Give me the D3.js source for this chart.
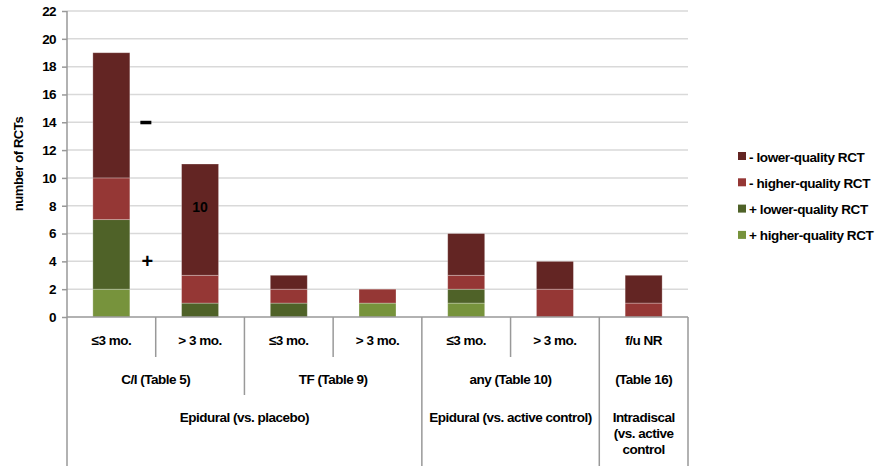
<!DOCTYPE html>
<html>
<head>
<meta charset="utf-8">
<script src="https://cdn.jsdelivr.net/npm/d3@7"></script>
<style>
  body { margin: 0; background: #fff; }
  svg text { font-family: "Liberation Sans", Arial, sans-serif; font-weight: bold; fill: #000; }
</style>
</head>
<body>
<svg width="888" height="466"></svg>
<script>
(function() {
  // chart data
  var categories = ["≤3 mo.", "> 3 mo.", "≤3 mo.", "> 3 mo.", "≤3 mo.", "> 3 mo.", "f/u NR"];
  var posHigher = [2, 0, 0, 1, 1, 0, 0];
  var posLower  = [5, 1, 1, 0, 1, 0, 0];
  var negHigher = [3, 2, 1, 1, 1, 2, 1];
  var negLower  = [9, 8, 1, 0, 3, 2, 2];
  var yTicks = [0, 2, 4, 6, 8, 10, 12, 14, 16, 18, 20, 22];

  // second and third header rows: [label, first index, last index]
  var level2 = [["C/I (Table 5)", 0, 1], ["TF (Table 9)", 2, 3], ["any (Table 10)", 4, 5], ["(Table 16)", 6, 6]];
  var level3 = [[["Epidural (vs. placebo)"], 0, 3], [["Epidural (vs. active control)"], 4, 5], [["Intradiscal", "(vs. active", "control"], 6, 6]];

  var seriesKeys = ["posHigher", "posLower", "negHigher", "negLower"];
  var seriesNames = {
    negLower: "- lower-quality RCT",
    negHigher: "- higher-quality RCT",
    posLower: "+ lower-quality RCT",
    posHigher: "+ higher-quality RCT"
  };
  var color = d3.scaleOrdinal()
      .domain(seriesKeys)
      .range(["#77933c", "#4f6228", "#953735", "#632523"]);

  var rows = categories.map(function(c, i) {
    return { idx: i, posHigher: posHigher[i], posLower: posLower[i], negHigher: negHigher[i], negLower: negLower[i] };
  });

  var svg = d3.select("svg");
  var left = 67, right = 688, top = 11, bottom = 317;

  var x = d3.scaleBand()
      .domain(d3.range(categories.length))
      .range([left, right])
      .paddingInner(0.583)
      .paddingOuter(0.2915);

  var y = d3.scaleLinear()
      .domain([0, 22])
      .range([bottom, top]);

  // gridlines + tick labels
  var yAxis = svg.append("g")
      .attr("transform", "translate(" + left + ",0)")
      .call(d3.axisLeft(y).tickValues(yTicks).tickSize(5).tickPadding(6));
  yAxis.select(".domain").remove();
  yAxis.selectAll(".tick line").attr("stroke", "#999").attr("stroke-width", 1.5);
  yAxis.selectAll(".tick text").style("font-size", "13.5px").style("letter-spacing", "-0.6px");

  svg.append("g")
    .selectAll("line")
    .data(yTicks.filter(function(d) { return d > 0; }))
    .enter().append("line")
      .attr("x1", left).attr("x2", right)
      .attr("y1", function(d) { return y(d); })
      .attr("y2", function(d) { return y(d); })
      .attr("stroke", "#d9d9d9")
      .attr("stroke-width", 1.5);

  // stacked bars
  var stacked = d3.stack().keys(seriesKeys)(rows);
  svg.append("g")
    .selectAll("g")
    .data(stacked)
    .enter().append("g")
      .attr("fill", function(d) { return color(d.key); })
    .selectAll("rect")
    .data(function(d) { return d; })
    .enter().append("rect")
      .filter(function(d) { return d[1] > d[0]; })
      .attr("x", function(d) { return x(d.data.idx); })
      .attr("width", x.bandwidth())
      .attr("y", function(d) { return y(d[1]); })
      .attr("height", function(d) { return y(d[0]) - y(d[1]); })
      .attr("stroke", "rgba(255,255,255,0.35)")
      .attr("stroke-width", 0.8);

  // y axis line and baseline
  svg.append("line")
      .attr("x1", left).attr("x2", left)
      .attr("y1", top).attr("y2", 466)
      .attr("stroke", "#999").attr("stroke-width", 1.5);
  svg.append("line")
      .attr("x1", left).attr("x2", right)
      .attr("y1", bottom).attr("y2", bottom)
      .attr("stroke", "#999").attr("stroke-width", 1.5);

  svg.append("text")
      .attr("transform", "translate(23,164) rotate(-90)")
      .attr("text-anchor", "middle")
      .style("font-size", "13px")
      .style("letter-spacing", "-0.4px")
      .text("number of RCTs");

  // annotations
  function mid(i) { return x(i) + x.bandwidth() / 2; }
  var step = x.step();
  svg.append("rect")
      .attr("x", mid(0) + 29).attr("y", y(14) - 1.5)
      .attr("width", 11).attr("height", 3.5)
      .attr("fill", "#000");
  svg.append("text").attr("x", mid(0) + 36).attr("y", y(4) + 7)
      .attr("text-anchor", "middle").style("font-size", "20px").text("+");
  svg.append("text").attr("x", mid(1)).attr("y", y(8) + 6)
      .attr("text-anchor", "middle").style("font-size", "14px").text("10");

  // header table below the plot
  var edge = function(i) { return left + i * step; };
  var table = svg.append("g");

  d3.range(1, categories.length).forEach(function(i) {
    var isL3 = level3.some(function(g) { return g[1] === i; });
    var isL2 = level2.some(function(g) { return g[1] === i; });
    table.append("line")
        .attr("x1", edge(i)).attr("x2", edge(i))
        .attr("y1", bottom).attr("y2", isL3 ? 466 : (isL2 ? 395 : 357))
        .attr("stroke", "#999").attr("stroke-width", 1.5);
  });
  table.append("line")
      .attr("x1", right).attr("x2", right)
      .attr("y1", bottom).attr("y2", 466)
      .attr("stroke", "#999").attr("stroke-width", 1.5);

  table.selectAll("text.l1")
    .data(categories)
    .enter().append("text")
      .attr("class", "l1")
      .attr("x", function(d, i) { return mid(i); })
      .attr("y", 345)
      .attr("text-anchor", "middle")
      .style("font-size", "13.5px")
      .style("letter-spacing", "-0.5px")
      .text(function(d) { return d; });

  table.selectAll("text.l2")
    .data(level2)
    .enter().append("text")
      .attr("class", "l2")
      .attr("x", function(d) { return (edge(d[1]) + edge(d[2] + 1)) / 2; })
      .attr("y", 384)
      .attr("text-anchor", "middle")
      .style("font-size", "13.5px")
      .style("letter-spacing", "-0.5px")
      .text(function(d) { return d[0]; });

  level3.forEach(function(g) {
    var cx = (edge(g[1]) + edge(g[2] + 1)) / 2;
    var t = table.append("text")
        .attr("x", cx)
        .attr("y", 422)
        .attr("text-anchor", "middle")
        .style("font-size", "13.5px")
        .style("letter-spacing", "-0.5px");
    g[0].forEach(function(line, k) {
      t.append("tspan")
          .attr("x", cx)
          .attr("dy", k ? 16 : 0)
          .text(line);
    });
  });

  // legend
  var legendKeys = ["negLower", "negHigher", "posLower", "posHigher"];
  var legend = svg.append("g")
    .selectAll("g")
    .data(legendKeys)
    .enter().append("g")
      .attr("transform", function(d, i) { return "translate(738," + (157 + i * 26.3) + ")"; });
  legend.append("rect")
      .attr("x", 0).attr("y", -5)
      .attr("width", 8).attr("height", 8)
      .attr("fill", function(d) { return color(d); });
  legend.append("text")
      .attr("x", 11).attr("y", 4.5)
      .style("font-size", "13.5px")
      .style("letter-spacing", "-0.4px")
      .text(function(d) { return seriesNames[d]; });
})();
</script>
</body>
</html>
